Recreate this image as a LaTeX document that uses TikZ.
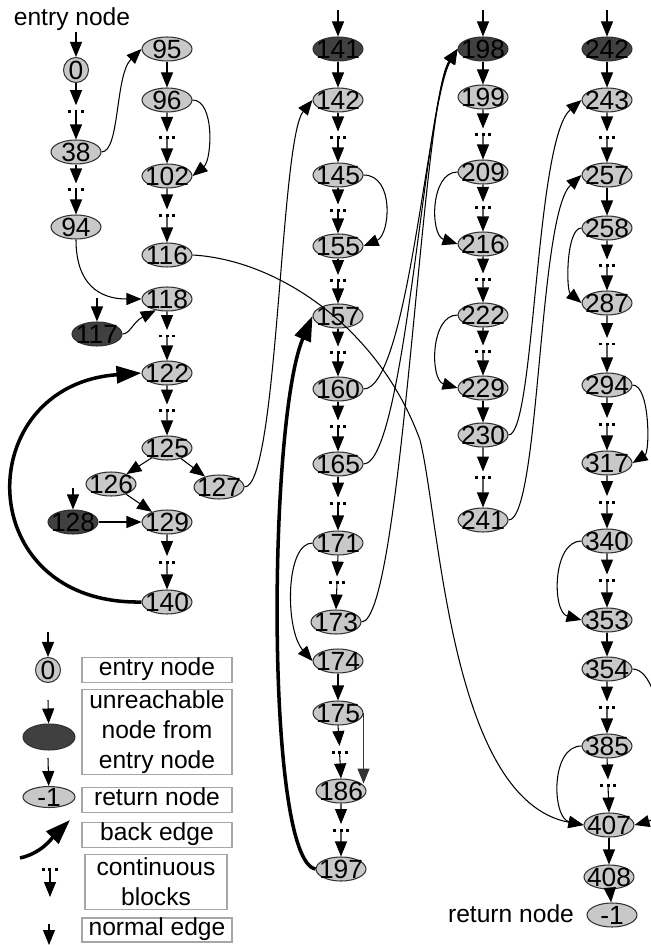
\documentclass[tikz,border=0pt]{standalone}
\usepackage{fontspec}
\setmainfont{Liberation Sans}
\usetikzlibrary{shapes.geometric,arrows.meta,calc}

\definecolor{blkfill}{RGB}{200,200,200}
\definecolor{deadfill}{RGB}{64,64,64}
\definecolor{blkline}{RGB}{50,50,50}

% block number: takes no room, so every ellipse keeps the same size
\newcommand{\blknum}[1]{\makebox[0pt]{\raisebox{-0.36em}[0pt][0pt]{#1}}}

% edge over a run of continuous blocks: arrow, three dots, arrow
\newcommand{\contedge}[2]{%
	\coordinate (dd) at ($(#1.south)!0.5!(#2.north)$);
	\coordinate (dtip) at ($(dd)+(0,-6)$);
	\draw[->] (#1.south) -- (dtip);
	\draw[blkdots] ($(dd)+(-8,0)$) -- ($(dd)+(8,0)$);
	\draw[->] (dd) -- (#2.north);}

\begin{document}
\begin{tikzpicture}[x=0.02cm, y=-0.02cm, line width=0.6pt,
	>={Triangle[length=0.3cm,width=0.24cm]},
	blk/.style={ellipse, draw=blkline, fill=blkfill, minimum width=1cm,
		minimum height=0.48cm, inner sep=0pt, font=\fontsize{15}{15}\selectfont},
	dead/.style={blk, fill=deadfill},
	entryblk/.style={blk, circle, minimum size=0.5cm},
	backedge/.style={line width=2pt, -{Triangle[length=0.5cm,width=0.34cm]}},
	blkdots/.style={line width=0.06cm, dash pattern=on 0.06cm off 0.07cm},
	legbox/.style={draw=gray!70, fill=white, inner ysep=0pt, inner xsep=1pt,
		minimum width=3cm, align=center, font=\fontsize{14}{17}\selectfont},
	legone/.style={legbox, minimum height=0.5cm, text height=0.72em, text depth=0.14em},
	lbl/.style={font=\fontsize{14}{14}\selectfont}]
	
	\useasboundingbox (0,0) rectangle (650,945);
	
	% Blocks
	\node[entryblk] (n0) at (76,70) {\blknum{0}};
	\foreach \n/\x/\y in {38/76/152, 94/76/227,
		95/167/49, 96/167/100, 102/167/176, 116/167/255, 118/167/299, 122/167/373,
		125/167/448, 126/111/484, 127/219/487, 129/167/522, 140/167/602,
		142/338/100, 145/338/175, 155/338/246, 157/338/316, 160/338/389, 165/338/464,
		171/338/543, 173/336/622, 174/338/661, 175/338/713, 186/341/791, 197/341/869,
		199/483/97, 209/483/172, 216/483/244, 222/483/315, 229/483/388, 230/483/435,
		241/483/520,
		243/607/100, 257/607/175, 258/607/228, 287/607/303, 294/607/385, 317/607/463,
		340/607/541, 353/607/620, 354/607/669, 385/607/746, 407/609/825, 408/609/877}
	\node[blk] (n\n) at (\x,\y) {\blknum{\n}};
	\foreach \n/\x/\y in {117/97/334, 128/73/522, 141/338/49, 198/483/49, 242/607/49}
	\node[dead] (n\n) at (\x,\y) {\blknum{\n}};
	\node[blk] (nret) at (612,915) {\blknum{-1}};
	
	\node[lbl] (lblentry) at (72,19) {entry node};
	\node[lbl] (lblret) at (511,914) {return node};
	
	% Edges into the blocks with no predecessor
	\coordinate (in0) at (76,32);
	\coordinate (in117) at (97,298);
	\coordinate (in128) at (73,488);
	\coordinate (in141) at (338,10);
	\coordinate (in198) at (483,10);
	\coordinate (in242) at (607,10);
	\foreach \n in {0,117,128,141,198,242}
	\draw[->] (in\n) -- (n\n);
	
	% first and second column
	\contedge{n0}{n38}
	\contedge{n38}{n94}
	\draw[->] (n38.east) .. controls (120,152) and (115,75) .. (n95.west);
	\draw[->] (n94.south) .. controls (76,285) and (100,299) .. (n118.west);
	\draw[->] (n117.east) .. controls (130,334) and (133,322) .. (n118.225);
	\draw[->] (n95) -- (n96);
	\contedge{n96}{n102}
	\draw[->] (n96.east) .. controls (215,100) and (212,160) .. (n102.east);
	\contedge{n102}{n116}
	\contedge{n118}{n122}
	\contedge{n122}{n125}
	\draw[->] (n125) -- (n126);
	\draw[->] (n125) -- (n127);
	\draw[->] (n126) -- (n129);
	\draw[->] (n128) -- (n129);
	\contedge{n129}{n140}
	\draw[backedge] (n140.west) .. controls (-30,605) and (-30,385) .. (n122.west);
	\draw[->] (n127.east) .. controls (278,487) and (280,140) .. (n142.west);
	\draw[->] (n116.east) .. controls (280,260) and (380,330) .. (420,440)
		.. controls (440,520) and (450,800) .. (n407.west);
	
	% third column
	\draw[->] (n141) -- (n142);
	\contedge{n142}{n145}
	\contedge{n145}{n155}
	\draw[->] (n145.east) .. controls (395,175) and (390,235) .. (n155.east);
	\contedge{n155}{n157}
	\contedge{n157}{n160}
	\contedge{n160}{n165}
	\contedge{n165}{n171}
	\contedge{n171}{n173}
	\draw[->] (n171.west) .. controls (285,543) and (285,630) .. (n174.west);
	\draw[->] (n174) -- (n175);
	\contedge{n175}{n186}
	\draw[->, blkline] (n175.east) -- (n175.east |- n186.20);
	\contedge{n186}{n197}
	\draw[backedge] (n197.west) .. controls (265,860) and (268,420) .. (n157.west);
	\draw[->] (n160.east) .. controls (408,389) and (428,100) .. (n198.west);
	\draw[->] (n165.east) .. controls (405,464) and (425,100) .. (n198.west);
	\draw[->] (n173.east) .. controls (402,622) and (422,100) .. (n198.west);
	
	% fourth column
	\draw[->] (n198) -- (n199);
	\contedge{n199}{n209}
	\contedge{n209}{n216}
	\draw[->] (n209.west) .. controls (430,172) and (430,235) .. (n216.west);
	\contedge{n216}{n222}
	\contedge{n222}{n229}
	\draw[->] (n222.west) .. controls (430,315) and (430,380) .. (n229.west);
	\draw[->] (n229) -- (n230);
	\contedge{n230}{n241}
	\draw[->] (n230.east) .. controls (535,435) and (535,140) .. (n243.west);
	\draw[->] (n241.east) .. controls (540,520) and (538,215) .. (n257.west);
	
	% fifth column
	\draw[->] (n242) -- (n243);
	\contedge{n243}{n257}
	\draw[->] (n257) -- (n258);
	\contedge{n258}{n287}
	\draw[->] (n258.west) .. controls (566,228) and (566,290) .. (n287.west);
	\contedge{n287}{n294}
	\contedge{n294}{n317}
	\draw[->] (n294.east) .. controls (650,385) and (650,452) .. (n317.east);
	\contedge{n317}{n340}
	\contedge{n340}{n353}
	\draw[->] (n340.west) .. controls (552,541) and (552,612) .. (n353.west);
	\draw[->] (n353) -- (n354);
	\contedge{n354}{n385}
	\draw[->] (n354.east) .. controls (668,669) and (672,815) .. (n407.east);
	\contedge{n385}{n407}
	\draw[->] (n385.west) .. controls (550,746) and (552,818) .. (n407.west);
	\draw[->] (n407) -- (n408);
	\draw[->] (n408) -- (nret);
	
	% Legend
	\node[entryblk] (k0) at (48,670) {\blknum{0}};
	\node[dead, minimum width=1.04cm, minimum height=0.52cm] (kdead) at (49,737) {};
	\node[blk, minimum width=1.04cm, minimum height=0.42cm] (kret) at (49,797) {\blknum{-1}};
	\coordinate (kin0) at (48,632);
	\coordinate (kin1) at (48,700);
	\coordinate (kin2) at (48,758);
	\draw[->] (kin0) -- (k0);
	\draw[->] (kin1) -- (kdead);
	\draw[->] (kin2) -- (kret);
	\coordinate (kb0) at (20,858);
	\coordinate (kb1) at (70,820);
	\draw[backedge] (kb0) .. controls (42,853) and (52,838) .. (kb1);
	\coordinate (kc0) at (50,869);
	\coordinate (kc1) at (50,897);
	\draw[blkdots] ($(kc0)+(-8,0)$) -- ($(kc0)+(8,0)$);
	\draw[->] (kc0) -- (kc1);
	\coordinate (kn0) at (49,924);
	\coordinate (kn1) at (49,945);
	\draw[->] (kn0) -- (kn1);
	
	\node[legone] (kentry) at (157,670) {entry node};
	\node[legbox, minimum height=1.7cm] (kdeadtxt) at (157,732) {unreachable\\node from\\entry node};
	\node[legone] (krettxt) at (157,800) {return node};
	\node[legone] (kbacktxt) at (157,835) {back edge};
	\node[legbox, minimum width=2.84cm, minimum height=1.1cm] (kconttxt) at (156,882) {continuous\\blocks};
	\node[legone, minimum height=0.48cm] (knormtxt) at (157,930) {normal edge};
\end{tikzpicture}
\end{document}
